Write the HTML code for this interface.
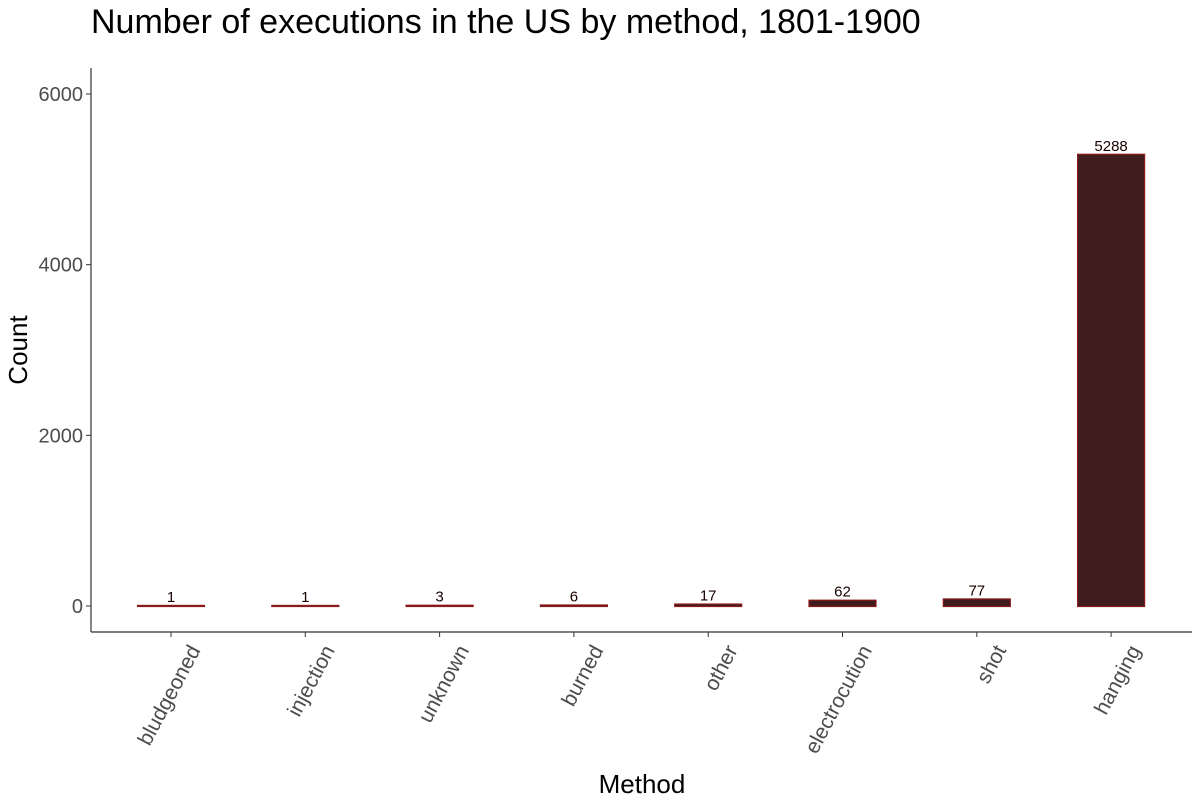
<!DOCTYPE html>
<html><head><meta charset="utf-8"><style>
body{margin:0;background:#fff}
svg{display:block;font-family:"Liberation Sans",sans-serif}
</style></head><body>
<svg id="c" width="1200" height="800">
<text x="91" y="33" font-size="34" fill="#000">Number of executions in the US by method, 1801-1900</text>
<text x="642" y="793" font-size="26" text-anchor="middle" fill="#000">Method</text>
<text transform="translate(27,350) rotate(-90)" font-size="26" text-anchor="middle" fill="#000">Count</text>
<line x1="91" y1="68" x2="91" y2="632" stroke="#333" stroke-width="1.2"/>
<line x1="91" y1="632" x2="1192" y2="632" stroke="#333" stroke-width="1.2"/>
<g id="g"></g>
</svg>
<script>
const categories=["bludgeoned","injection","unknown","burned","other","electrocution","shot","hanging"];
const counts=[1,1,3,6,17,62,77,5288];
const yTicks=[0,2000,4000,6000];
const y0=606,yPer=(606-94)/6000;
const step=134.3;
const xs=i=>171+step*i;
const ys=v=>y0-v*yPer;
const g=document.getElementById('g');
const NS="http://www.w3.org/2000/svg";
function mk(t,a){const e=document.createElementNS(NS,t);for(const k in a)e.setAttribute(k,a[k]);g.appendChild(e);return e;}
yTicks.forEach(v=>{
 const l=mk('line',{x1:86,x2:91,y1:ys(v),y2:ys(v),stroke:'#333'});
 
 
 const t=mk('text',{x:83,y:ys(v)+7,'font-size':20,'text-anchor':'end',fill:'#4d4d4d'});
 t.textContent=v;
 
 
});
const bw=67;
categories.forEach((c,i)=>{
 const cx=xs(i);
 const top=ys(counts[i]);
 const b=mk('rect',{x:cx-bw/2,y:top-0.5,width:bw,height:Math.max(y0-top,0)+1,fill:'#3f1d1f',stroke:'#8b1a1a','stroke-width':1.2});
 
 
 const v=mk('text',{x:cx,y:top-4,'font-size':15,'text-anchor':'middle',fill:'#1a0000'});
 v.textContent=counts[i];
 
 
 const tk=mk('line',{x1:cx,x2:cx,y1:632,y2:637,stroke:'#333'});
 
 
 const t=mk('text',{transform:`translate(${cx+30},${650}) rotate(-62)`,'font-size':21,'text-anchor':'end',fill:'#4d4d4d'});
 t.textContent=c;
 
 
});
</script>
</body></html>
